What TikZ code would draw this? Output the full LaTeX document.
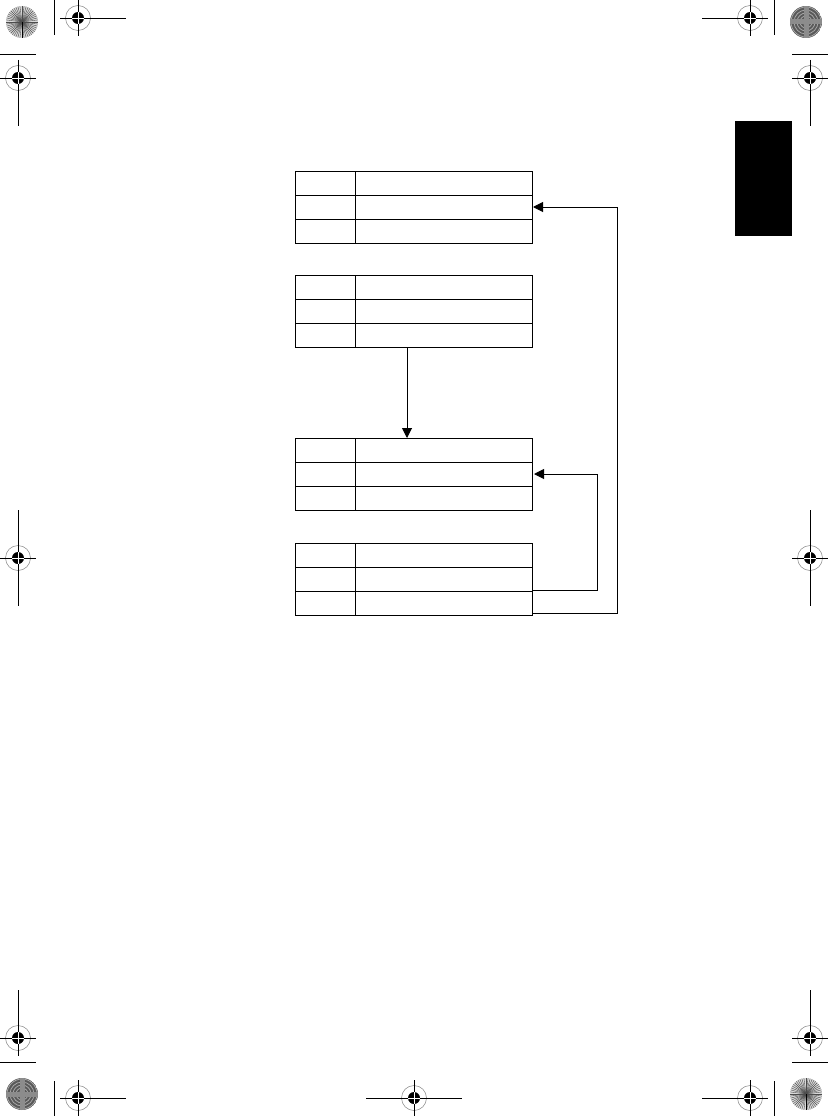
\documentclass[tikz,border=0pt]{standalone}
\usepackage{tikz}
\usetikzlibrary{arrows.meta, positioning}

\begin{document}
\begin{tikzpicture}[x=1pt, y=-1pt, >={Triangle[length=10pt, width=10pt]}, key cell/.style={draw, line width=1pt, minimum width=60pt, minimum height=24pt, inner sep=0pt, outer sep=0pt}, val cell/.style={key cell, minimum width=177pt}, link/.style={line width=1pt, ->}]

			\useasboundingbox (0,0) rectangle (828,1116);

			% tables
			\foreach \n/\ytop in {1/171, 2/275, 3/438, 4/543} {
				\node[key cell, anchor=north west] (k\n1) at (295,\ytop) {};
				\node[key cell] (k\n2) [below=0pt of k\n1] {};
				\node[key cell] (k\n3) [below=0pt of k\n2] {};
				\node[val cell] (v\n1) [right=0pt of k\n1] {};
				\node[val cell] (v\n2) [right=0pt of k\n2] {};
				\node[val cell] (v\n3) [right=0pt of k\n3] {};
			}

			% links between tables
			\draw[link] ([xshift=52pt]v23.south west) -- ([xshift=52pt]v31.north west);
			\draw[link, shorten >=2pt] ([yshift=1pt]v42.south east) -- ++(65,0) |- (v32.east);
			\draw[link, shorten >=1pt] ([yshift=2pt]v43.south east) -- ++(85,0) |- (v12.east);

			% thumb tab
			\fill (735,121) rectangle (792,236);

			% trim marks
			\draw[line width=0.9pt] (54,0) -- (54,35) (0,54) -- (36,54);
			\draw[line width=0.9pt] (774,0) -- (774,35) (792,54) -- (828,54);
			\draw[line width=0.9pt] (54,1081) -- (54,1116) (0,1062) -- (36,1062);
			\draw[line width=0.9pt] (774,1081) -- (774,1116) (792,1062) -- (828,1062);

			% registration marks
			\foreach \cx/\cy/\aL/\aR/\aU/\aD in {78/18/18/48/18/18, 18/78/18/18/18/48, 750/18/48/18/18/18, 810/78/18/18/18/48, 18/558/18/18/48/48, 810/558/18/18/48/48, 18/1038/18/18/48/18, 78/1098/18/48/18/18, 414/1098/48/48/18/18, 810/1038/18/18/48/18, 750/1098/48/18/18/18} {
				\draw[gray, line width=0.5pt] (\cx,\cy) circle (12.5pt);
				\draw[line width=0.9pt] (\cx-\aL,\cy) -- (\cx+\aR,\cy) (\cx,\cy-\aU) -- (\cx,\cy+\aD);
				\fill (\cx,\cy) circle (6pt);
				\draw[white, line width=0.6pt] (\cx-6,\cy) -- (\cx+6,\cy) (\cx,\cy-6) -- (\cx,\cy+6);
			}

			% colour wheels
			\foreach \cx/\cy in {22/22, 806/1094} {
				\fill[gray!30] (\cx,\cy) circle (16pt);
				\foreach \a in {0,7.5,...,352.5}
					\draw[line width=0.4pt, black!70] (\cx,\cy) -- ++(\a:16);
				\draw[line width=0.8pt] (\cx,\cy) -- (\cx,\cy+16);
			}
			\foreach \cx/\cy in {806/22, 22/1094} {
				\begin{scope}
					\clip (\cx,\cy) circle (16pt);
					\fill[black!65] (\cx,\cy) circle (16pt);
					\foreach \rad in {3,6,9,12,15}
						\draw[black!35, line width=0.8pt] (\cx,\cy) circle (\rad pt);
					\fill[black!45] (\cx-2.5,\cy-16) rectangle (\cx+2.5,\cy+16);
					\fill[black!45] (\cx-16,\cy-2.5) rectangle (\cx+16,\cy+2.5);
				\end{scope}
			}

		\end{tikzpicture}
\end{document}
